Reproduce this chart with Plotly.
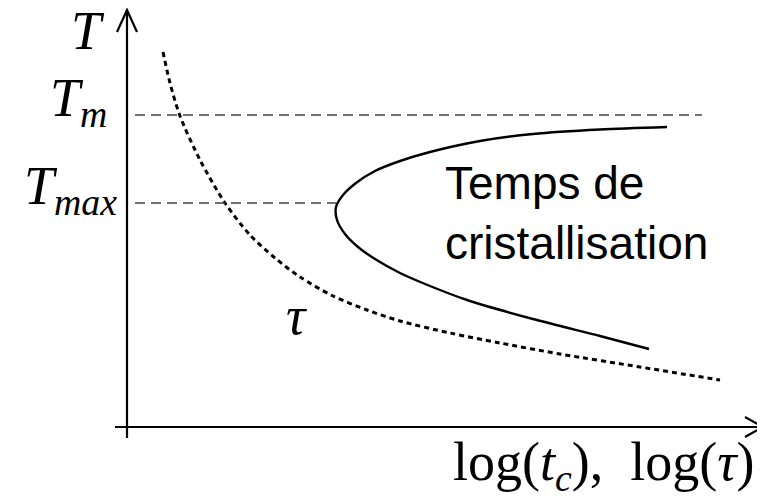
import plotly.graph_objects as go

# Schematic TTT-type diagram (units: arbitrary, origin at the axes corner)
tau_x = [36, 43, 53, 73, 98, 123, 148, 173, 206, 240, 273, 323, 373, 433, 513, 593]
tau_y = [375, 344, 311, 267, 224, 192, 169, 150, 131, 117, 106, 94, 84, 73, 60, 47]

tc_x = [540, 473, 406, 353, 303, 273, 248, 229, 216, 209, 210, 218, 231, 248, 273, 303, 340, 406, 473, 522]
tc_y = [300, 297.5, 293, 286, 275, 266, 256, 244, 232, 220, 207, 193, 180, 168, 154, 141, 127, 108, 91, 78]

T_m = 312
T_max = 224
tm_dash_end = 575
tmax_dash_end = 209

fig = go.Figure()

fig.add_trace(go.Scatter(x=tau_x, y=tau_y, mode="lines",
                         line=dict(color="black", width=3, dash="5px,4px", shape="spline", smoothing=0.8),
                         hoverinfo="skip"))
fig.add_trace(go.Scatter(x=tc_x, y=tc_y, mode="lines",
                         line=dict(color="black", width=2.4, shape="spline", smoothing=0.8),
                         hoverinfo="skip"))

shapes = []
shapes.append(dict(type="line", x0=8, x1=tm_dash_end, y0=T_m, y1=T_m,
                   line=dict(color="#444444", width=1.4, dash="10px,6px")))
shapes.append(dict(type="line", x0=8, x1=tmax_dash_end, y0=T_max, y1=T_max,
                   line=dict(color="#444444", width=1.4, dash="10px,6px")))
shapes.append(dict(type="line", x0=0, x1=0, y0=-11, y1=417, line=dict(color="black", width=2.2)))
shapes.append(dict(type="line", x0=-12, x1=636, y0=0, y1=0, line=dict(color="black", width=2.2)))
shapes.append(dict(type="path", path="M -10,395 L 0,417 L 10,395",
                   line=dict(color="black", width=2.2)))
shapes.append(dict(type="path", path="M 618,10 L 636,0 L 618,-10",
                   line=dict(color="black", width=2.2)))

math_font = dict(family="Liberation Serif, Times New Roman, serif", size=54, color="black")
annotations = [
    dict(x=-39, y=396, text="<i>T</i>", showarrow=False, font=math_font,
         xanchor="center", yanchor="middle"),
    dict(x=-18, y=T_m + 14, text="<i>T</i><sub><i>m</i></sub>", showarrow=False, font=math_font,
         xanchor="right", yanchor="middle"),
    dict(x=-8, y=T_max + 14, text="<i>T</i><sub><i>max</i></sub>", showarrow=False, font=math_font,
         xanchor="right", yanchor="middle"),
    dict(x=169, y=111, text="<i>τ</i>", showarrow=False, font=math_font,
         xanchor="center", yanchor="middle"),
    dict(x=630, y=-38, text="log(<i>t</i><sub><i>c</i></sub>),  log(<i>τ</i>)", showarrow=False,
         font=math_font, xanchor="right", yanchor="middle"),
    dict(x=316, y=272, text="Temps de<br>cristallisation", showarrow=False, align="left",
         font=dict(family="Liberation Sans, Arial, sans-serif", size=46, color="black"),
         xanchor="left", yanchor="top"),
]

fig.update_layout(
    width=757, height=492,
    margin=dict(l=0, r=0, t=0, b=0),
    paper_bgcolor="white", plot_bgcolor="white",
    showlegend=False,
    xaxis=dict(range=[-119, 638], visible=False, fixedrange=True),
    yaxis=dict(range=[-73, 419], visible=False, fixedrange=True),
    shapes=shapes,
    annotations=annotations,
)

fig.write_html("out.html")
